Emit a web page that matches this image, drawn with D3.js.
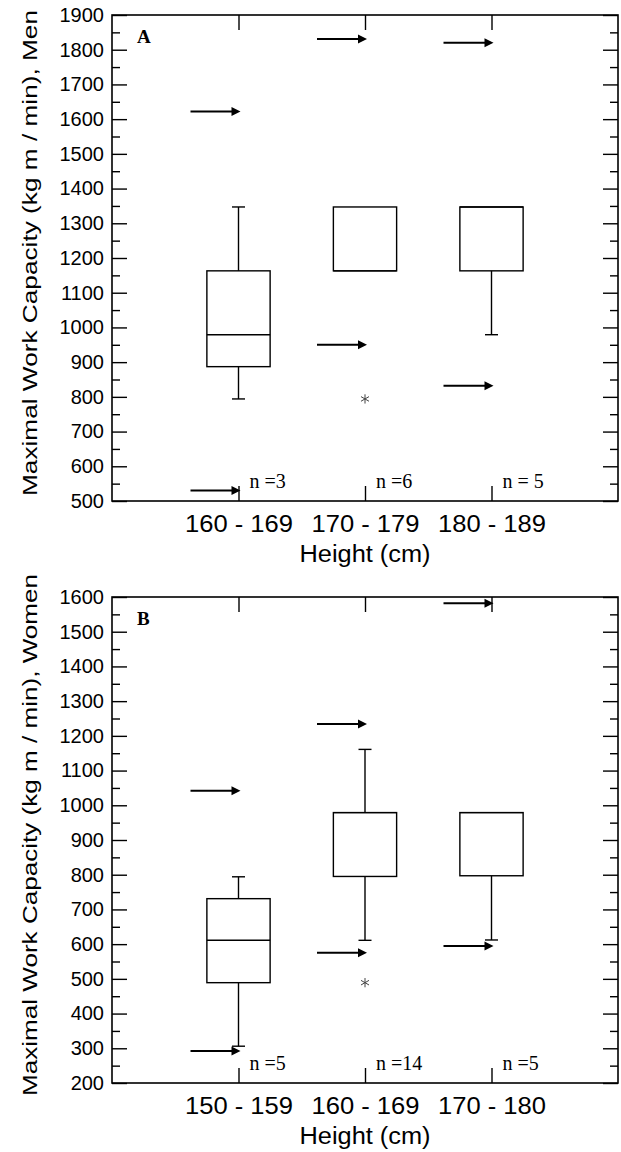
<!DOCTYPE html>
<html lang="en">
	<head>
		<meta charset="UTF-8" />
		<title>Maximal work capacity by height</title>
		<script src="https://d3js.org/d3.v7.min.js"></script>
		<style>
			body {
				margin: 0;
				background: #fff;
			}
			svg {
				display: block;
			}
			.tick text {
				font-family: "Liberation Sans", Arial, sans-serif;
				fill: #000;
			}
		</style>
	</head>
	<body>
		<svg width="621" height="1152"></svg>
		<script>
			// Panel A - men
			const menGroups = ["160 - 169", "170 - 179", "180 - 189"];
			const menQ1 = [887, 1163, 1163];
			const menMedian = [979, 1163, 1347];
			const menQ3 = [1163, 1347, 1347];
			const menLow = [794, 1163, 979];
			const menHigh = [1347, 1347, 1347];
			const menOutliers = [[], [794], []];
			const menArrowHigh = [1622, 1831, 1820];
			const menArrowLow = [530, 950, 832];
			const menN = ["n =3", "n =6", "n = 5"];
			const menDomain = [500, 1900];

			// Panel B - women
			const womenGroups = ["150 - 159", "160 - 169", "170 - 180"];
			const womenQ1 = [489, 795, 797];
			const womenMedian = [611, 979, 979];
			const womenQ3 = [731, 979, 979];
			const womenLow = [306, 611, 612];
			const womenHigh = [794, 1161, 979];
			const womenOutliers = [[], [489], []];
			const womenArrowHigh = [1042, 1234, 1582];
			const womenArrowLow = [292, 575, 595];
			const womenN = ["n =5", "n =14", "n =5"];
			const womenDomain = [200, 1600];

			const svg = d3.select("svg");
			const left = 112, right = 618, plotH = 486;

			function drawPanel(o) {
				const top = o.top, bottom = top + plotH;
				const x = d3.scaleLinear().domain([0, 4]).range([left, right]);
				const y = d3.scaleLinear().domain(o.domain).range([bottom, top]);
				const g = svg.append("g");
				const cats = o.groups.map((d, i) => i + 1);

				// y axes, major and minor ticks, inward
				const major = d3.range(o.domain[0], o.domain[1] + 1, 100);
				const minor = d3.range(o.domain[0] + 50, o.domain[1], 100);
				g.append("g")
					.attr("transform", `translate(${left},0)`)
					.call(d3.axisLeft(y).tickValues(major).tickSizeInner(-15).tickSizeOuter(0).tickPadding(8).tickFormat(d3.format("d")))
					.call((a) => a.selectAll("text").style("font-size", "20px"));
				g.append("g")
					.attr("transform", `translate(${left},0)`)
					.call(d3.axisLeft(y).tickValues(minor).tickSizeInner(-8).tickSizeOuter(0).tickFormat(""));
				g.append("g")
					.attr("transform", `translate(${right},0)`)
					.call(d3.axisRight(y).tickValues(major).tickSizeInner(-15).tickSizeOuter(0).tickFormat(""));
				g.append("g")
					.attr("transform", `translate(${right},0)`)
					.call(d3.axisRight(y).tickValues(minor).tickSizeInner(-8).tickSizeOuter(0).tickFormat(""));

				// x axes
				g.append("g")
					.attr("transform", `translate(0,${bottom})`)
					.call(d3.axisBottom(x).tickValues(cats).tickSizeInner(-15).tickSizeOuter(0).tickPadding(15).tickFormat((d) => o.groups[d - 1]))
					.call((a) =>
						a.selectAll("text")
							.style("font-size", "23px")
							.attr("textLength", 108)
							.attr("lengthAdjust", "spacingAndGlyphs")
					);
				g.append("g")
					.attr("transform", `translate(0,${top})`)
					.call(d3.axisTop(x).tickValues(cats).tickSizeInner(-15).tickSizeOuter(0).tickFormat(""));

				g.selectAll(".domain").remove();
				g.selectAll(".tick line").attr("stroke", "#000").attr("stroke-width", 1.4);

				// frame
				g.append("rect")
					.attr("x", left)
					.attr("y", top)
					.attr("width", right - left)
					.attr("height", plotH)
					.attr("fill", "none")
					.attr("stroke", "#000")
					.attr("stroke-width", 1.6);

				// boxes
				const hw = x(0.25) - x(0);
				const cap = 6.5;
				const boxes = g.append("g").attr("stroke", "#000").attr("stroke-width", 1.4).attr("fill", "none");
				cats.forEach((c, i) => {
					const cx = x(c);
					if (o.high[i] > o.q3[i]) {
						boxes.append("line").attr("x1", cx).attr("x2", cx).attr("y1", y(o.q3[i])).attr("y2", y(o.high[i]));
						boxes.append("line").attr("x1", cx - cap).attr("x2", cx + cap).attr("y1", y(o.high[i])).attr("y2", y(o.high[i]));
					}
					if (o.low[i] < o.q1[i]) {
						boxes.append("line").attr("x1", cx).attr("x2", cx).attr("y1", y(o.q1[i])).attr("y2", y(o.low[i]));
						boxes.append("line").attr("x1", cx - cap).attr("x2", cx + cap).attr("y1", y(o.low[i])).attr("y2", y(o.low[i]));
					}
					boxes.append("rect")
						.attr("x", cx - hw)
						.attr("y", y(o.q3[i]))
						.attr("width", hw * 2)
						.attr("height", y(o.q1[i]) - y(o.q3[i]));
					boxes.append("line").attr("x1", cx - hw).attr("x2", cx + hw).attr("y1", y(o.median[i])).attr("y2", y(o.median[i]));

					o.outliers[i].forEach((v) => {
						g.append("path")
							.attr("d", d3.symbol(d3.symbolAsterisk, 60)())
							.attr("transform", `translate(${cx},${y(v)})`)
							.attr("fill", "none")
							.attr("stroke", "#444")
							.attr("stroke-width", 1);
					});

					// arrows
					[o.arrowHigh[i], o.arrowLow[i]].forEach((v) => {
						const tip = cx + 2, yy = y(v);
						g.append("line")
							.attr("x1", tip - 50)
							.attr("x2", tip - 7)
							.attr("y1", yy)
							.attr("y2", yy)
							.attr("stroke", "#000")
							.attr("stroke-width", 2);
						g.append("path")
							.attr("d", `M${tip},${yy}L${tip - 9},${yy - 4.5}L${tip - 9},${yy + 4.5}Z`)
							.attr("fill", "#000");
					});

					// n labels
					g.append("text")
						.attr("x", cx + 11)
						.attr("y", bottom - 13)
						.attr("font-family", "'Liberation Serif', 'Times New Roman', serif")
						.attr("font-size", 20)
						.text(o.n[i]);
				});

				// panel letter
				g.append("text")
					.attr("x", 137)
					.attr("y", top + 28)
					.attr("font-family", "'Liberation Serif', 'Times New Roman', serif")
					.attr("font-weight", "bold")
					.attr("font-size", 19)
					.text(o.letter);

				// axis titles
				g.append("text")
					.attr("transform", `translate(37,${(top + bottom) / 2 - 5}) rotate(-90)`)
					.attr("text-anchor", "middle")
					.attr("font-family", "'Liberation Sans', Arial, sans-serif")
					.attr("font-size", 21)
					.attr("textLength", o.titleLen)
					.attr("lengthAdjust", "spacingAndGlyphs")
					.text(o.title);
				g.append("text")
					.attr("x", (left + right) / 2)
					.attr("y", bottom + 61)
					.attr("text-anchor", "middle")
					.attr("font-family", "'Liberation Sans', Arial, sans-serif")
					.attr("font-size", 23)
					.attr("textLength", 131)
					.attr("lengthAdjust", "spacingAndGlyphs")
					.text("Height (cm)");
			}

			drawPanel({
				top: 15,
				domain: menDomain,
				groups: menGroups,
				q1: menQ1,
				median: menMedian,
				q3: menQ3,
				low: menLow,
				high: menHigh,
				outliers: menOutliers,
				arrowHigh: menArrowHigh,
				arrowLow: menArrowLow,
				n: menN,
				letter: "A",
				title: "Maximal Work Capacity (kg m / min), Men",
				titleLen: 486,
			});

			drawPanel({
				top: 597,
				domain: womenDomain,
				groups: womenGroups,
				q1: womenQ1,
				median: womenMedian,
				q3: womenQ3,
				low: womenLow,
				high: womenHigh,
				outliers: womenOutliers,
				arrowHigh: womenArrowHigh,
				arrowLow: womenArrowLow,
				n: womenN,
				letter: "B",
				title: "Maximal Work Capacity (kg m / min), Women",
				titleLen: 522,
			});
		</script>
	</body>
</html>
